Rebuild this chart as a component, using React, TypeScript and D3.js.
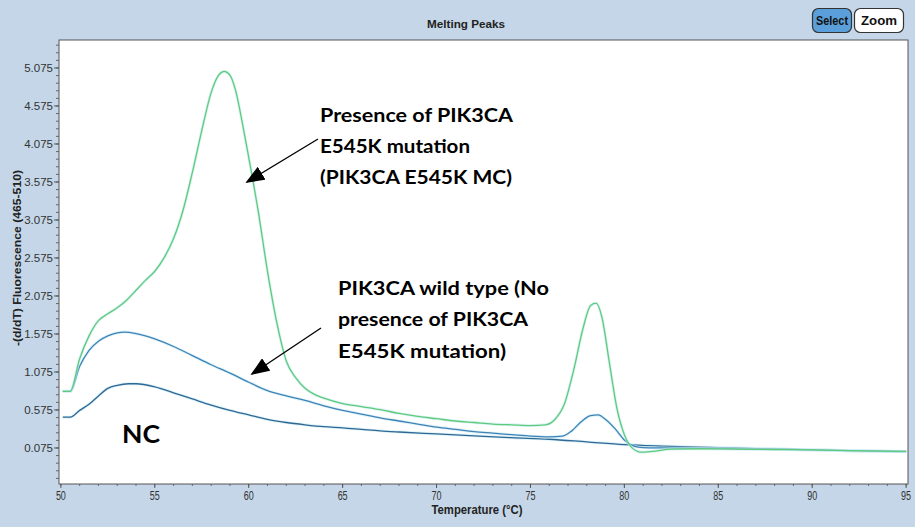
import React from "react";
import * as d3 from "d3";

const mutTemps = [50.1,50.5,51.0,51.5,52.0,52.5,53.0,53.5,54.0,54.5,55.0,55.5,56.0,56.5,57.0,57.5,58.0,58.4,58.7,59.0,59.3,59.7,60.0,60.5,61.0,61.5,62.0,62.5,63.0,63.5,64.0,65.0,66.0,67.0,68.0,69.0,70.0,71.0,72.0,73.0,74.0,75.0,75.8,76.3,76.8,77.3,77.8,78.2,78.5,78.8,79.2,79.6,80.0,80.4,80.9,81.5,82.5,84,86,88,90,92,95];
const mutValues = [0.82,0.82,1.25,1.55,1.75,1.84,1.92,2.02,2.15,2.28,2.40,2.58,2.83,3.20,3.70,4.25,4.75,4.98,5.03,4.98,4.78,4.30,3.90,3.20,2.40,1.72,1.22,1.00,0.86,0.78,0.73,0.66,0.62,0.58,0.53,0.49,0.46,0.43,0.41,0.39,0.38,0.37,0.38,0.45,0.65,1.10,1.65,1.95,1.98,1.80,1.20,0.60,0.25,0.08,0.02,0.03,0.06,0.065,0.06,0.055,0.05,0.04,0.03];

const wtTemps = [50.1,50.5,51.0,51.5,52.0,52.5,53.0,53.4,54.0,54.5,55.0,56.0,57.0,58.0,59.0,60.0,61.0,62.0,63.0,64.0,65.0,66.0,67.0,68.0,69.0,70.0,71.0,72.0,73.0,74.0,75.0,76.0,76.7,77.2,77.7,78.2,78.6,79.0,79.5,80.0,80.5,81.0,82,84,86,88,90,92,95];
const wtValues = [0.82,0.82,1.15,1.36,1.48,1.55,1.59,1.60,1.58,1.55,1.51,1.41,1.29,1.17,1.06,0.94,0.83,0.76,0.70,0.63,0.57,0.52,0.47,0.43,0.39,0.35,0.32,0.29,0.27,0.25,0.23,0.22,0.23,0.30,0.42,0.50,0.51,0.45,0.33,0.18,0.10,0.08,0.075,0.07,0.065,0.06,0.05,0.04,0.03];

const ncTemps = [50.1,50.5,51.0,51.5,52.0,52.5,53.0,53.6,54.0,55.0,56.0,57.0,58.0,59.0,60.0,61.0,62.0,63.0,64.0,65.0,66.0,67.0,68.0,70.0,72.0,74.0,76.0,78.0,80.0,82.0,84.0,86,88,90,92,95];
const ncValues = [0.48,0.48,0.57,0.65,0.76,0.86,0.90,0.92,0.92,0.88,0.80,0.72,0.64,0.57,0.51,0.45,0.41,0.38,0.355,0.34,0.32,0.30,0.285,0.26,0.235,0.21,0.19,0.155,0.12,0.10,0.085,0.075,0.06,0.05,0.04,0.025];

const xTicks = [50,55,60,65,70,75,80,85,90,95];
const yTicks = [0.075,0.575,1.075,1.575,2.075,2.575,3.075,3.575,4.075,4.575,5.075];

const W = 915, H = 527;
const L = 59, T = 40, R = 908, B = 484;

export default function App() {
  const x = d3.scaleLinear().domain([49.9, 95.1]).range([L, R]);
  const y = d3.scaleLinear().domain([-0.399, 5.443]).range([B, T]);
  const line = d3.line<[number, number]>().x(d => x(d[0])).y(d => y(d[1])).curve(d3.curveMonotoneX);
  const mk = (ts: number[], vs: number[]) => ts.map((t, i) => [t, vs[i]] as [number, number]);
  const series = [
    { d: mk(ncTemps, ncValues), c: "#2f6795" },
    { d: mk(wtTemps, wtValues), c: "#3f82b6" },
    { d: mk(mutTemps, mutValues), c: "#5ecb7b" },
  ];
  const minorY = d3.range(0, 60).map(i => 0.075 + i * 0.1 - 0.4).filter(v => v > -0.399 && v < 5.443);
  const minorX = d3.range(50, 96, 1);

  return (
    <svg width={W} height={H} style={{ position: "absolute", left: 0, top: 0, fontFamily: "Liberation Sans, Arial, sans-serif" }}>
      <defs>
        <marker id="ah" viewBox="0 0 10 10" refX="9" refY="5" markerWidth="19" markerHeight="15" orient="auto-start-reverse" markerUnits="userSpaceOnUse" preserveAspectRatio="none">
          <path d="M0,0 L10,5 L0,10 z" fill="#000" />
        </marker>
        <clipPath id="pc"><rect x={L} y={T} width={R - L} height={B - T} /></clipPath>
      </defs>
      <rect x={0} y={0} width={W} height={H} fill="#c4d6e7" />
      <text x={466} y={28} textAnchor="middle" fontSize={11.5} fontWeight="bold" fill="#222" textLength={78} lengthAdjust="spacingAndGlyphs">Melting Peaks</text>
      <rect x={812.5} y={8.5} width={39} height={24} rx={6} fill="#5a9fd9" stroke="#333" strokeWidth={1.2} />
      <text x={832} y={25} textAnchor="middle" fontSize={13} fontWeight="bold" fill="#111" textLength={32} lengthAdjust="spacingAndGlyphs">Select</text>
      <rect x={854.5} y={8.5} width={49} height={24} rx={6} fill="#fff" stroke="#333" strokeWidth={1.2} />
      <text x={879} y={25} textAnchor="middle" fontSize={13} fontWeight="bold" fill="#111" textLength={36} lengthAdjust="spacingAndGlyphs">Zoom</text>

      <rect x={L} y={T} width={R - L} height={B - T} fill="#fff" stroke="#555" strokeWidth={1} />
      <g clipPath="url(#pc)">
        {series.map((s, i) => (
          <g key={i}>
            <path d={line(s.d) || ""} fill="none" stroke="#c6ebf2" strokeWidth={3} opacity={0.6} />
            <path d={line(s.d) || ""} fill="none" stroke={s.c} strokeWidth={1.3} />
          </g>
        ))}
      </g>

      {minorY.map((v, i) => (
        <line key={"my" + i} x1={L - 3} x2={L} y1={y(v)} y2={y(v)} stroke="#666" />
      ))}
      {yTicks.map((v, i) => (
        <g key={"y" + i}>
          <line x1={L - 5} x2={L} y1={y(v)} y2={y(v)} stroke="#555" />
          <text x={L - 6} y={y(v) + 4} textAnchor="end" fontSize={11.5} fill="#333">{v.toFixed(3)}</text>
        </g>
      ))}
      {minorX.map((v, i) => (
        <line key={"mx" + i} x1={x(v)} x2={x(v)} y1={B} y2={B + 2} stroke="#666" />
      ))}
      {xTicks.map((v, i) => (
        <g key={"x" + i}>
          <line x1={x(v)} x2={x(v)} y1={B} y2={B + 4} stroke="#555" />
          <text x={x(v)} y={500} textAnchor="middle" fontSize={12} fill="#333" textLength={10} lengthAdjust="spacingAndGlyphs">{v}</text>
        </g>
      ))}
      <text x={477} y={514} textAnchor="middle" fontSize={12} fontWeight="bold" fill="#222" textLength={91} lengthAdjust="spacingAndGlyphs">Temperature (°C)</text>
      <text transform="translate(21,258) rotate(-90)" textAnchor="middle" fontSize={11} fontWeight="bold" fill="#222" textLength={176} lengthAdjust="spacingAndGlyphs">-(d/dT) Fluorescence (465-510)</text>

      <g fontFamily="Lato, Open Sans, sans-serif" fontWeight="bold" fontSize={19.5} fill="#000">
        <text x={320} y={122} textLength={193} lengthAdjust="spacingAndGlyphs">Presence of PIK3CA</text>
        <text x={320} y={153} textLength={150} lengthAdjust="spacingAndGlyphs">E545K mutation</text>
        <text x={320} y={184} textLength={192} lengthAdjust="spacingAndGlyphs">(PIK3CA E545K MC)</text>
        <text x={338} y={295} textLength={211} lengthAdjust="spacingAndGlyphs">PIK3CA wild type (No</text>
        <text x={338} y={326} textLength={190} lengthAdjust="spacingAndGlyphs">presence of PIK3CA</text>
        <text x={338} y={358} textLength={168} lengthAdjust="spacingAndGlyphs">E545K mutation)</text>
        <text x={122} y={443} fontSize={24} textLength={38} lengthAdjust="spacingAndGlyphs">NC</text>
      </g>
      <line x1={318} y1={139} x2={247} y2={182} stroke="#000" strokeWidth={1.3} markerEnd="url(#ah)" />
      <line x1={321} y1={328} x2={252} y2={374} stroke="#000" strokeWidth={1.3} markerEnd="url(#ah)" />
    </svg>
  );
}
